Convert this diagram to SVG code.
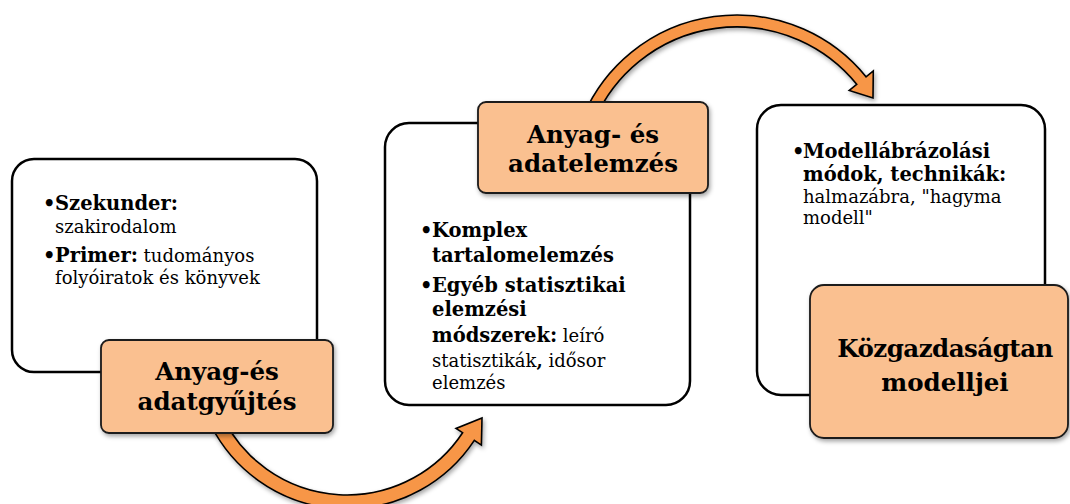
<svg xmlns="http://www.w3.org/2000/svg" width="1070" height="504" viewBox="0 0 1070 504">
<style>
  .panel { fill: #ffffff; stroke: #000000; stroke-width: 2.5; }
  .label { fill: #FAC090; stroke: #1a1a1a; stroke-width: 1.8; filter: url(#sh); }
  .arrow { fill: #F79646; stroke: #000000; stroke-width: 1.6; stroke-linejoin: miter; filter: url(#sh); }
  text { font-family: "DejaVu Serif", "Liberation Serif", serif; fill: #000000; }
  .t { font-size: 18px; }
  .b { font-size: 19.5px; font-weight: bold; }
  .h { font-size: 24.5px; font-weight: bold; text-anchor: middle; }
  .bb { font-weight: bold; }
</style>
<defs>
  <filter id="sh" x="-10%" y="-10%" width="125%" height="130%">
    <feDropShadow dx="1.5" dy="2.5" stdDeviation="2" flood-color="#000000" flood-opacity="0.35"/>
  </filter>
</defs>
<rect width="1070" height="504" fill="#ffffff"/>

<g id="connectors">
  <path class="arrow" d="M 210.8 425 A 152.5 152.5 0 0 0 474.3 440.4 L 481.4 445.1 L 482 418 L 456 428.4 L 462.6 432.7 A 138.5 138.5 0 0 1 223.3 418.7 Z"/>
  <path class="arrow" d="M 583.7 115 A 166.7 166.7 0 0 1 866 76.8 L 873.3 70.9 L 873 98 L 849.2 90.5 L 856.7 84.3 A 154.7 154.7 0 0 0 594.7 119.8 Z"/>
</g>

<g id="node1">
  <rect class="panel" x="12" y="159" width="305" height="213" rx="22"/>
  <text class="b" x="43" y="210">•<tspan x="55">Szekunder:</tspan></text>
  <text class="t" x="55" y="233">szakirodalom</text>
  <text class="b" x="43" y="262">•<tspan x="55">Primer:</tspan><tspan class="t" font-weight="normal"> tudományos</tspan></text>
  <text class="t" x="55" y="284">folyóiratok és könyvek</text>
</g>
<g id="node1-label">
  <rect class="label" x="101" y="340" width="232" height="93" rx="8"/>
  <text class="h" x="217" y="380">Anyag-és</text>
  <text class="h" x="217" y="410">adatgyűjtés</text>
</g>

<g id="node2">
  <rect class="panel" x="385" y="123" width="305" height="282" rx="24"/>
  <text class="b" x="420" y="237">•<tspan x="432">Komplex</tspan></text>
  <text class="b" x="432" y="262">tartalomelemzés</text>
  <text class="b" x="420" y="292">•<tspan x="432">Egyéb statisztikai</tspan></text>
  <text class="b" x="432" y="316">elemzési</text>
  <text class="b" x="432" y="342">módszerek:<tspan class="t" font-weight="normal"> leíró</tspan></text>
  <text class="t" x="432" y="367">statisztikák<tspan class="bb">,</tspan> idősor</text>
  <text class="t" x="432" y="389">elemzés</text>
</g>
<g id="node2-label">
  <rect class="label" x="478" y="102" width="230" height="91" rx="8"/>
  <text class="h" x="593" y="143">Anyag- és</text>
  <text class="h" x="593" y="172">adatelemzés</text>
</g>

<g id="node3">
  <rect class="panel" x="757" y="105" width="288" height="290" rx="24"/>
  <text class="b" x="792" y="158">•<tspan x="803">Modellábrázolási</tspan></text>
  <text class="b" x="803" y="181">módok, technikák:</text>
  <text class="t" x="803" y="203">halmazábra, "hagyma</text>
  <text class="t" x="803" y="224">modell"</text>
</g>
<g id="node3-label">
  <rect class="label" x="810" y="285" width="258" height="153" rx="14"/>
  <text class="h" x="945" y="357" letter-spacing="-0.5">Közgazdaságtan</text>
  <text class="h" x="945" y="391">modelljei</text>
</g>
</svg>
